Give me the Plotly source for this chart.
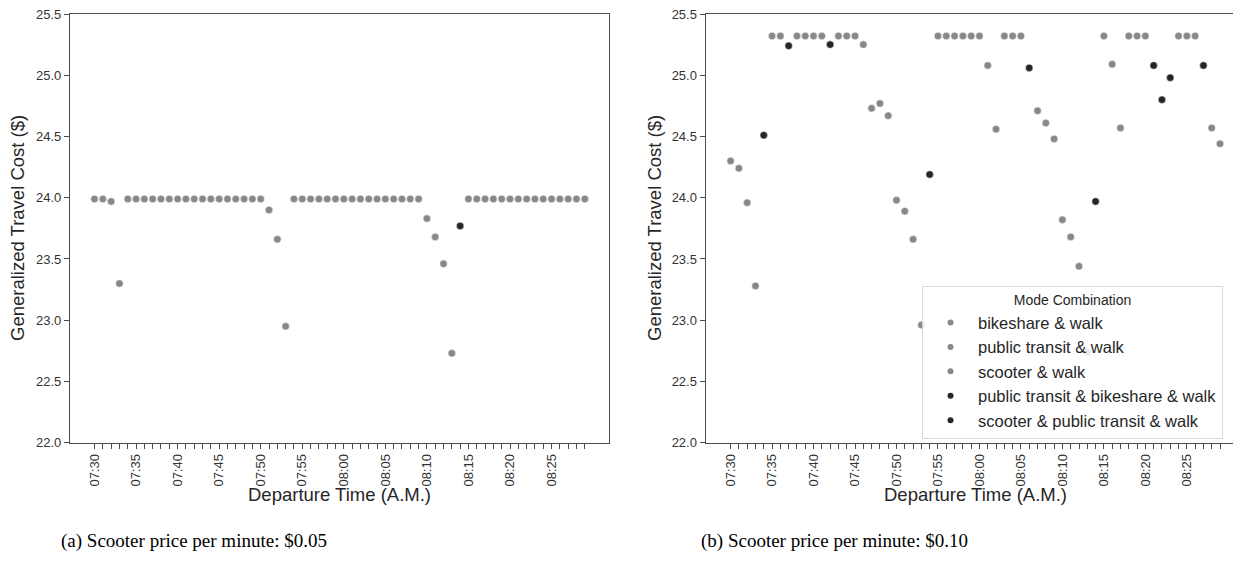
import plotly.graph_objects as go

# ---------------- data ----------------
times = ["07:%02d" % m for m in range(30, 60)] + ["08:%02d" % m for m in range(0, 30)]

modes = ["bikeshare & walk", "public transit & walk", "scooter & walk",
         "public transit & bikeshare & walk", "scooter & public transit & walk"]
mode_colors = ["#888888", "#888888", "#888888", "#262626", "#262626"]

# (a) scooter price $0.05
cost_a = [23.99, 23.99, 23.97, 23.30,
          23.99, 23.99, 23.99, 23.99, 23.99, 23.99, 23.99, 23.99, 23.99, 23.99,
          23.99, 23.99, 23.99, 23.99, 23.99, 23.99, 23.99,
          23.90, 23.66, 22.95,
          23.99, 23.99, 23.99, 23.99, 23.99, 23.99, 23.99, 23.99, 23.99, 23.99,
          23.99, 23.99, 23.99, 23.99, 23.99, 23.99,
          23.83, 23.68, 23.46, 22.73, 23.77,
          23.99, 23.99, 23.99, 23.99, 23.99, 23.99, 23.99, 23.99, 23.99, 23.99,
          23.99, 23.99, 23.99, 23.99, 23.99]
mode_a = ["S", "S", "PT", "PT",
          "S", "S", "S", "S", "S", "S", "S", "S", "S", "S",
          "S", "S", "S", "S", "S", "S", "S",
          "PT", "PT", "PT",
          "S", "S", "S", "S", "S", "S", "S", "S", "S", "S",
          "S", "S", "S", "S", "S", "S",
          "PT", "PT", "PT", "PT", "SPT",
          "S", "S", "S", "S", "S", "S", "S", "S", "S", "S",
          "S", "S", "S", "S", "S"]

# (b) scooter price $0.10
cost_b = [24.30, 24.24, 23.96, 23.28, 24.51, 25.32, 25.32, 25.24, 25.32, 25.32,
          25.32, 25.32, 25.25, 25.32, 25.32, 25.32, 25.25, 24.73, 24.77, 24.67,
          23.98, 23.89, 23.66, 22.96, 24.19, 25.32, 25.32, 25.32, 25.32, 25.32,
          25.32, 25.08, 24.56, 25.32, 25.32, 25.32, 25.06, 24.71, 24.61, 24.48,
          23.82, 23.68, 23.44, 22.74, 23.97, 25.32, 25.09, 24.57, 25.32, 25.32,
          25.32, 25.08, 24.80, 24.98, 25.32, 25.32, 25.32, 25.08, 24.57, 24.44]
mode_b = ["PT", "PT", "PT", "PT", "PTB", "B", "B", "SPT", "B", "B",
          "B", "B", "SPT", "B", "B", "B", "S", "PT", "PT", "PT",
          "PT", "PT", "PT", "PT", "PTB", "B", "B", "B", "B", "B",
          "B", "S", "PT", "B", "B", "B", "SPT", "PT", "PT", "PT",
          "PT", "PT", "PT", "PT", "PTB", "B", "S", "PT", "B", "B",
          "B", "SPT", "PTB", "SPT", "B", "B", "B", "SPT", "PT", "PT"]

mode_codes = ["B", "PT", "S", "PTB", "SPT"]

y_ticks = [22.0, 22.5, 23.0, 23.5, 24.0, 24.5, 25.0, 25.5]
captions = ["(a) Scooter price per minute: $0.05", "(b) Scooter price per minute: $0.10"]
x_title = "Departure Time (A.M.)"
y_title = "Generalized Travel Cost ($)"

# ---------------- figure ----------------
W, H = 1241, 563
OFF = 8  # page body margin in the browser
fig = go.Figure()

xpos = list(range(len(times)))

def add_panel(costs, mcodes, xa, ya):
    for code, name, col in zip(mode_codes, modes, mode_colors):
        xs = [xpos[i] for i in range(len(costs)) if mcodes[i] == code]
        ys = [costs[i] for i in range(len(costs)) if mcodes[i] == code]
        fig.add_trace(go.Scatter(
            x=xs, y=ys, mode="markers", name=name,
            marker=dict(color=col, size=7.5, line=dict(color="white", width=0.5)),
            xaxis=xa, yaxis=ya, showlegend=False, legendgroup=name))

add_panel(cost_a, mode_a, "x", "y")
add_panel(cost_b, mode_b, "x2", "y2")

# legend-only entries (smaller symbols, as in the reference legend)
for name, col in zip(modes, mode_colors):
    fig.add_trace(go.Scatter(x=[None], y=[None], mode="markers", name=name,
                             marker=dict(color=col, size=6),
                             xaxis="x2", yaxis="y2", showlegend=True, legendgroup=name))

ticktext = [t if i % 5 == 0 and i < 59 else "" for i, t in enumerate(times)]

def px_x(p):
    return (p - OFF) / W

def px_y(p):
    return 1 - (p - OFF) / H

ydom = [px_y(442.7), px_y(14)]
axis_common = dict(showline=True, linecolor="#4d4d4d", linewidth=1.3, mirror=True,
                   showgrid=False, zeroline=False, ticks="outside", ticklen=5,
                   tickcolor="#4d4d4d", tickwidth=1.1, automargin=False,
                   ticklabeloverflow="allow",
                   tickfont=dict(family="Liberation Sans, Arial", size=13, color="#333333"))

xcommon = dict(axis_common, tickmode="array", tickvals=xpos, ticktext=ticktext, tickangle=-90)
ycommon = dict(axis_common, tickmode="array", tickvals=y_ticks,
               ticktext=["%.1f" % v for v in y_ticks], range=[22.0, 25.5])

fig.update_layout(
    width=W, height=H,
    margin=dict(l=0, r=0, t=0, b=0),
    paper_bgcolor="white", plot_bgcolor="white",
    xaxis=dict(xcommon, domain=[px_x(70), px_x(609.3)], range=[-2.95, 61.95], anchor="y"),
    yaxis=dict(ycommon, domain=ydom, anchor="x"),
    xaxis2=dict(xcommon, domain=[px_x(705.7), px_x(1244.5)], range=[-3.0, 61.95], anchor="y2"),
    yaxis2=dict(ycommon, domain=ydom, anchor="x2"),
    legend=dict(
        x=px_x(922), xanchor="left", y=px_y(439), yanchor="bottom",
        bgcolor="rgba(255,255,255,0.8)", bordercolor="#d9d9d9", borderwidth=1,
        font=dict(family="Liberation Sans, Arial", size=16.5, color="#262626"),
        title=dict(text="Mode Combination", side="top center",
                   font=dict(family="Liberation Sans, Arial", size=14, color="#262626")),
        traceorder="normal", itemsizing="trace", itemwidth=45, tracegroupgap=0,
    ),
    showlegend=True,
)

title_font = dict(family="Liberation Sans, Arial", size=18.5, color="#262626")
for cx in [(70 + 609.3) / 2, (705.7 + 1244.5) / 2]:
    fig.add_annotation(text=x_title, x=px_x(cx), y=px_y(494), xref="paper", yref="paper",
                       xanchor="center", yanchor="middle", showarrow=False, font=title_font)
for cx in [18, 655]:
    fig.add_annotation(text=y_title, x=px_x(cx), y=px_y(228), xref="paper", yref="paper",
                       xanchor="center", yanchor="middle", showarrow=False, textangle=-90,
                       font=title_font)

for txt, lx in zip(captions, [59, 699]):
    fig.add_annotation(text=txt, x=px_x(lx), y=px_y(541), xref="paper", yref="paper",
                       xanchor="left", yanchor="middle", showarrow=False,
                       font=dict(family="Liberation Serif, Times New Roman", size=19, color="black"))

fig.write_html("out.html")
